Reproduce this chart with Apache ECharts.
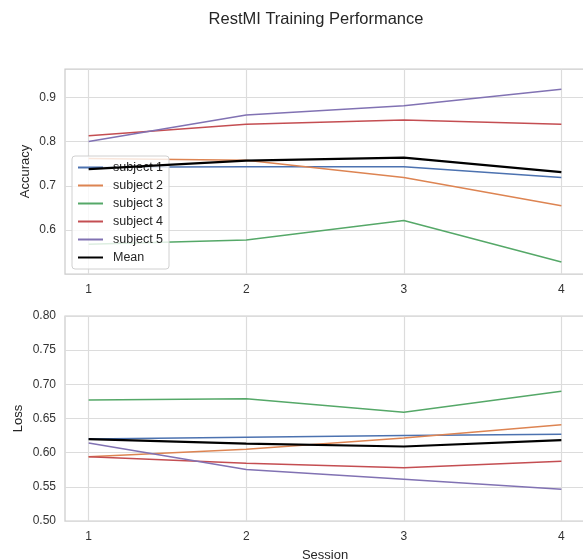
<!DOCTYPE html>
<html>
<head>
<meta charset="utf-8">
<script src="https://cdn.jsdelivr.net/npm/echarts@6/dist/echarts.min.js"></script>
<style>
    html, body { margin: 0; padding: 0; background: #fff; }
    #main { width: 583px; height: 559px; }
</style>
</head>
<body>
<div id="main"></div>
<script>
    'use strict';

    // sessions on the x axis
    var sessions = [1, 2, 3, 4];
    var names = ['subject 1', 'subject 2', 'subject 3', 'subject 4', 'subject 5', 'Mean'];

    // accuracy per session
    var acc1 = [0.742, 0.743, 0.743, 0.719];
    var acc2 = [0.762, 0.758, 0.719, 0.655];
    var acc3 = [0.568, 0.578, 0.622, 0.528];
    var acc4 = [0.813, 0.839, 0.849, 0.839];
    var acc5 = [0.800, 0.860, 0.881, 0.918];
    var accMean = [0.738, 0.757, 0.764, 0.731];

    // loss per session
    var loss1 = [0.620, 0.6225, 0.625, 0.627];
    var loss2 = [0.594, 0.605, 0.6215, 0.641];
    var loss3 = [0.677, 0.679, 0.659, 0.690];
    var loss4 = [0.594, 0.5845, 0.578, 0.5875];
    var loss5 = [0.614, 0.5755, 0.561, 0.5465];
    var lossMean = [0.6197, 0.6133, 0.609, 0.6183];

    var accTicks = [0.6, 0.7, 0.8, 0.9];

    var colors = ['#4c72b0', '#dd8452', '#55a868', '#c44e52', '#8172b3', '#000000'];
    var font = 'Liberation Sans, Arial, sans-serif';

    function pairs(vals) {
        return sessions.map(function (s, i) { return [s, vals[i]]; });
    }

    function makeSeries(list, gridIdx) {
        return list.map(function (vals, i) {
            return {
                name: names[i],
                type: 'line',
                xAxisIndex: gridIdx,
                yAxisIndex: gridIdx,
                data: pairs(vals),
                symbol: 'none',
                silent: true,
                z: i === 5 ? 5 : 3,
                lineStyle: { color: colors[i], width: i === 5 ? 2.2 : 1.5 },
                itemStyle: { color: colors[i] }
            };
        });
    }

    function xAxis(gridIdx, showName) {
        return {
            type: 'value',
            gridIndex: gridIdx,
            min: 0.85,
            max: 4.15,
            name: showName ? 'Session' : '',
            nameLocation: 'middle',
            nameGap: 28,
            nameMoveOverlap: false,
            nameTextStyle: { color: '#262626', fontSize: 13, fontFamily: font },
            axisLine: { show: false },
            axisTick: { show: false, customValues: sessions },
            axisLabel: { customValues: sessions, color: '#333', fontSize: 12, fontFamily: font, margin: 10 },
            splitLine: { show: true, customValues: sessions, lineStyle: { color: '#dcdcdc', width: 1.2 } }
        };
    }

    var chart = echarts.init(document.getElementById('main'));

    var option = {
        backgroundColor: '#fff',
        animation: false,
        title: {
            text: 'RestMI Training Performance',
            left: 311,
            top: 6,
            textAlign: 'center',
            textStyle: { fontSize: 16.5, fontWeight: 'normal', color: '#262626', fontFamily: font }
        },
        legend: {
            data: names,
            orient: 'vertical',
            left: 72,
            top: 156,
            itemWidth: 25,
            itemHeight: 10,
            itemGap: 5,
            padding: [5, 6, 5, 5],
            backgroundColor: 'rgba(255,255,255,0.8)',
            borderColor: '#d0d0d0',
            borderWidth: 1,
            borderRadius: 3,
            itemStyle: { opacity: 0 },
            textStyle: { color: '#262626', fontSize: 12.5, fontFamily: font, padding: [0, 0, 0, 5] }
        },
        grid: [
            { left: 65, right: -2, top: 69, height: 205, show: true, borderColor: '#cccccc', borderWidth: 1.25, outerBoundsMode: 'none', containLabel: false },
            { left: 65, right: -2, top: 316, height: 205, show: true, borderColor: '#cccccc', borderWidth: 1.25, outerBoundsMode: 'none', containLabel: false }
        ],
        xAxis: [xAxis(0, false), xAxis(1, true)],
        yAxis: [
            {
                type: 'value',
                gridIndex: 0,
                min: 0.501,
                max: 0.964,
                name: 'Accuracy',
                nameLocation: 'middle',
                nameGap: 33,
                nameMoveOverlap: false,
                nameTextStyle: { color: '#262626', fontSize: 13, fontFamily: font },
                axisLine: { show: false },
                axisTick: { show: false, customValues: accTicks },
                axisLabel: { customValues: accTicks, color: '#333', fontSize: 12, fontFamily: font, margin: 9 },
                splitLine: { show: true, customValues: accTicks, lineStyle: { color: '#dcdcdc', width: 1.2 } }
            },
            {
                type: 'value',
                gridIndex: 1,
                min: 0.5,
                max: 0.8,
                interval: 0.05,
                name: 'Loss',
                nameLocation: 'middle',
                nameGap: 40,
                nameMoveOverlap: false,
                nameTextStyle: { color: '#262626', fontSize: 13, fontFamily: font },
                axisLine: { show: false },
                axisTick: { show: false },
                axisLabel: {
                    color: '#333', fontSize: 12, fontFamily: font, margin: 9,
                    formatter: function (v) { return v.toFixed(2); }
                },
                splitLine: { show: true, lineStyle: { color: '#dcdcdc', width: 1.2 } }
            }
        ],
        series: makeSeries([acc1, acc2, acc3, acc4, acc5, accMean], 0)
            .concat(makeSeries([loss1, loss2, loss3, loss4, loss5, lossMean], 1))
    };

    chart.setOption(option);
</script>
</body>
</html>
